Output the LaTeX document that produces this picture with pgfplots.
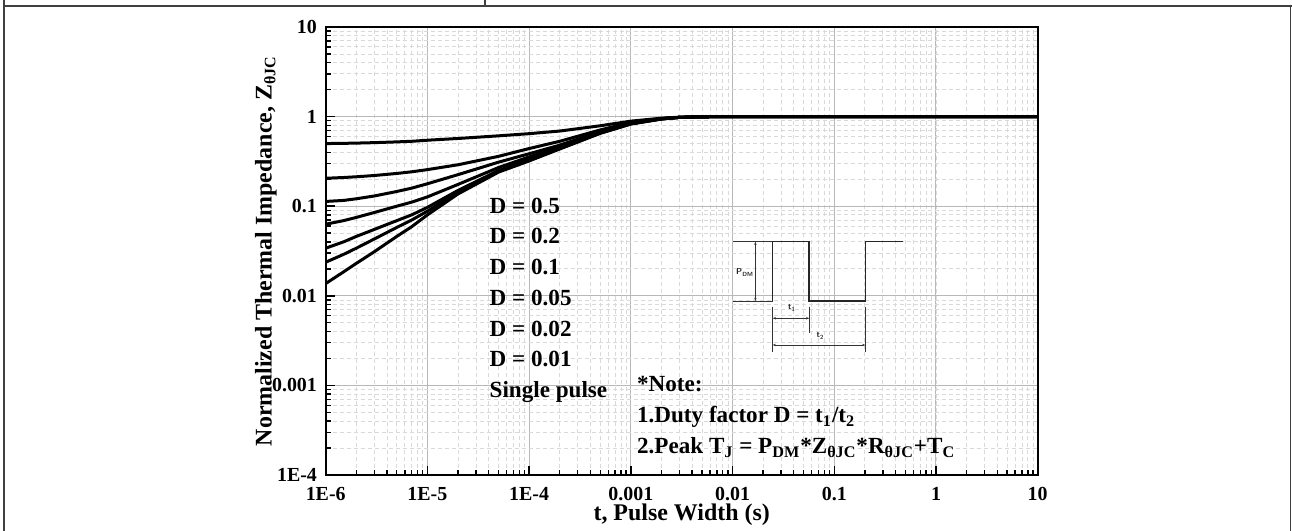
\documentclass[border=0pt]{standalone}
\usepackage{fontspec}
\setmainfont{Liberation Serif}
\usepackage{pgfplots}
\pgfplotsset{compat=1.18}
\usepackage{pgfplotstable}
\usetikzlibrary{arrows.meta}

\newcommand\tickfont{\bfseries\fontsize{10}{11}\selectfont}
\newcommand\labfont{\bfseries\fontsize{11.6}{13}\selectfont}
\newcommand\axlabfont{\bfseries\fontsize{12}{14}\selectfont}
\newcommand\tinyfont{\fontsize{4.3}{5}\selectfont}

% Normalized transient thermal impedance Z_thJC(t) for several duty factors
\pgfplotstableread{
t       d50    d20    d10    d05    d02    d01     sp
1e-6    0.500  0.205  0.113  0.063  0.034  0.0237  0.0137
1.5e-6  0.503  0.209  0.116  0.069  0.040  0.029   0.0185
2e-6    0.506  0.213  0.121  0.075  0.046  0.034   0.023
3e-6    0.512  0.220  0.130  0.085  0.055  0.043   0.031
5e-6    0.522  0.232  0.146  0.100  0.069  0.058   0.046
7e-6    0.530  0.242  0.159  0.111  0.080  0.070   0.059
1e-5    0.545  0.256  0.178  0.127  0.097  0.088   0.080
2e-5    0.570  0.290  0.225  0.175  0.150  0.143   0.137
5e-5    0.610  0.360  0.310  0.270  0.250  0.245   0.240
1e-4    0.645  0.440  0.385  0.355  0.335  0.325   0.320
2e-4    0.690  0.530  0.480  0.460  0.445  0.440   0.435
5e-4    0.790  0.710  0.680  0.670  0.660  0.655   0.650
1e-3    0.890  0.860  0.850  0.840  0.835  0.830   0.825
2e-3    0.960  0.950  0.950  0.945  0.945  0.940   0.940
3e-3    0.985  0.980  0.980  0.980  0.980  0.980   0.980
5e-3    0.995  0.995  0.995  0.995  0.995  0.995   0.995
1e-2    1.000  1.000  1.000  1.000  1.000  1.000   1.000
1e-1    1.000  1.000  1.000  1.000  1.000  1.000   1.000
1       1.000  1.000  1.000  1.000  1.000  1.000   1.000
10      1.000  1.000  1.000  1.000  1.000  1.000   1.000
}\zth

\tikzset{zline/.style={black, solid, line width=1.5bp, line join=round, no markers}}

\begin{document}
\begin{tikzpicture}
\useasboundingbox (0,0) rectangle (646bp,265.5bp);
% table frame around the figure
\begin{scope}[line width=0.8bp, black!75]
  \draw (2bp,0) -- (2bp,265.5bp);
  \draw (2bp,262.5bp) -- (646bp,262.5bp);
  \draw (645.25bp,0) -- (645.25bp,262.5bp);
  \draw (242.5bp,262.5bp) -- (242.5bp,265.5bp);
\end{scope}

\begin{axis}[
  at={(162.85bp,28bp)}, anchor=south west,
  scale only axis, width=356bp, height=224bp,
  xmode=log, ymode=log,
  xmin=1e-6, xmax=10, ymin=1e-4, ymax=10,
  xtick={1e-6,1e-5,1e-4,1e-3,1e-2,1e-1,1,10},
  xticklabels={1E-6,1E-5,1E-4,0.001,0.01,0.1,1,10},
  ytick={1e-4,1e-3,1e-2,1e-1,1,10},
  yticklabels={1E-4,0.001,0.01,0.1,1,10},
  tick pos=left, tick align=inside,
  major tick length=4.5bp, minor tick length=2.5bp,
  tick style={black, line width=0.7bp},
  grid=both,
  major grid style={black!28, line width=0.5bp},
  minor grid style={black!15, line width=0.4bp, dash pattern=on 2bp off 1.5bp},
  axis line style={line width=0.9bp},
  tick label style={font=\tickfont, inner sep=0pt},
  xticklabel style={anchor=base, yshift=-12.5bp},
  yticklabel style={anchor=east, xshift=-4.2bp},
  xlabel={t, Pulse Width (s)},
  xlabel style={at={(axis description cs:0.5,-0.1015)}, anchor=base, font=\axlabfont, inner sep=0pt},
  ylabel={Normalized Thermal Impedance, Z\textsubscript{θJC}},
  ylabel style={at={(axis description cs:-0.0758,0.5)}, anchor=base, font=\axlabfont, inner sep=0pt},
  clip=true,
]
\addplot[zline] table[x=t, y=d50] {\zth};
\addplot[zline] table[x=t, y=d20] {\zth};
\addplot[zline] table[x=t, y=d10] {\zth};
\addplot[zline] table[x=t, y=d05] {\zth};
\addplot[zline] table[x=t, y=d02] {\zth};
\addplot[zline] table[x=t, y=d01] {\zth};
\addplot[zline] table[x=t, y=sp]  {\zth};

% curve captions
\begin{scope}[every node/.style={anchor=base west, font=\labfont, inner sep=0pt}]
  \node at (rel axis cs:0.2298,0.5848) {D = 0.5};
  \node at (rel axis cs:0.2298,0.5161) {D = 0.2};
  \node at (rel axis cs:0.2298,0.4473) {D = 0.1};
  \node at (rel axis cs:0.2298,0.3786) {D = 0.05};
  \node at (rel axis cs:0.2298,0.3098) {D = 0.02};
  \node at (rel axis cs:0.2298,0.2411) {D = 0.01};
  \node at (rel axis cs:0.2298,0.1723) {Single pulse};
  \node at (rel axis cs:0.4368,0.1853) {*Note:};
  \node at (rel axis cs:0.4368,0.1172) {1.Duty factor D = t\textsubscript{1}/t\textsubscript{2}};
  \node at (rel axis cs:0.4368,0.0480) {2.Peak T\textsubscript{J} = P\textsubscript{DM}*Z\textsubscript{θJC}*R\textsubscript{θJC}+T\textsubscript{C}};
\end{scope}

% pulse train sketch
\draw[black!80, line width=0.3bp] (rel axis cs:0.5725,0.3884) -- (rel axis cs:0.6278,0.3884);
\draw[black!80, line width=0.3bp] (rel axis cs:0.5725,0.5208) -- (rel axis cs:0.6278,0.5208);
\draw[black!85, line width=0.8bp]
  (rel axis cs:0.6278,0.3884) -- (rel axis cs:0.6278,0.5208) -- (rel axis cs:0.6792,0.5208)
  -- (rel axis cs:0.6792,0.3884) -- (rel axis cs:0.7579,0.3884) -- (rel axis cs:0.7579,0.5208)
  -- (rel axis cs:0.8104,0.5208);
\begin{scope}[black!80, line width=0.3bp]
  \draw[{Stealth[length=1.6bp,width=1.2bp]}-{Stealth[length=1.6bp,width=1.2bp]}]
    (rel axis cs:0.6035,0.3884) -- (rel axis cs:0.6035,0.5208);
  \draw (rel axis cs:0.6278,0.3757) -- (rel axis cs:0.6278,0.2746);
  \draw (rel axis cs:0.6792,0.3757) -- (rel axis cs:0.6792,0.3163);
  \draw (rel axis cs:0.7579,0.3757) -- (rel axis cs:0.7579,0.2746);
  \draw[{Stealth[length=1.6bp,width=1.2bp]}-{Stealth[length=1.6bp,width=1.2bp]}]
    (rel axis cs:0.6278,0.3498) -- (rel axis cs:0.6792,0.3498);
  \draw[{Stealth[length=1.6bp,width=1.2bp]}-{Stealth[length=1.6bp,width=1.2bp]}]
    (rel axis cs:0.6278,0.2902) -- (rel axis cs:0.7579,0.2902);
\end{scope}
\begin{scope}[every node/.style={font=\tinyfont\sffamily\bfseries, inner sep=0pt, text=black!85}]
  \node at (rel axis cs:0.5890,0.4509) {P\textsubscript{DM}};
  \node at (rel axis cs:0.6549,0.3720) {t\textsubscript{1}};
  \node at (rel axis cs:0.6949,0.3103) {t\textsubscript{2}};
\end{scope}
\end{axis}
\end{tikzpicture}
\end{document}
